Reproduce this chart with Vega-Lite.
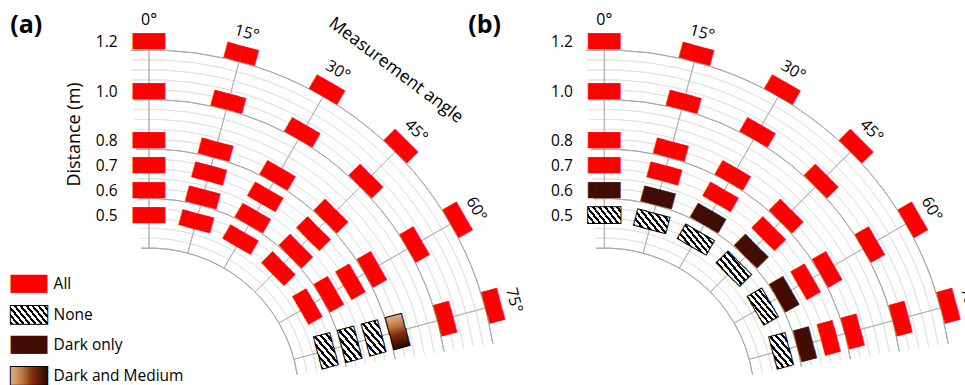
{
"$schema": "https://vega.github.io/schema/vega-lite/v6.json",
"padding": {"left": 10, "top": 12, "right": 0, "bottom": 0},
"bounds": "flush",
"spacing": 108.3,
"config": {"view": {"stroke": null}},
"datasets": {
"rectsA": [
{"angle":0,"distance":0.5,"result":"All"},{"angle":0,"distance":0.6,"result":"All"},{"angle":0,"distance":0.7,"result":"All"},{"angle":0,"distance":0.8,"result":"All"},{"angle":0,"distance":1.0,"result":"All"},{"angle":0,"distance":1.2,"result":"All"},
{"angle":15,"distance":0.5,"result":"All"},{"angle":15,"distance":0.6,"result":"All"},{"angle":15,"distance":0.7,"result":"All"},{"angle":15,"distance":0.8,"result":"All"},{"angle":15,"distance":1.0,"result":"All"},{"angle":15,"distance":1.2,"result":"All"},
{"angle":30,"distance":0.5,"result":"All"},{"angle":30,"distance":0.6,"result":"All"},{"angle":30,"distance":0.7,"result":"All"},{"angle":30,"distance":0.8,"result":"All"},{"angle":30,"distance":1.0,"result":"All"},{"angle":30,"distance":1.2,"result":"All"},
{"angle":45,"distance":0.5,"result":"All"},{"angle":45,"distance":0.6,"result":"All"},{"angle":45,"distance":0.7,"result":"All"},{"angle":45,"distance":0.8,"result":"All"},{"angle":45,"distance":1.0,"result":"All"},{"angle":45,"distance":1.2,"result":"All"},
{"angle":60,"distance":0.5,"result":"All"},{"angle":60,"distance":0.6,"result":"All"},{"angle":60,"distance":0.7,"result":"All"},{"angle":60,"distance":0.8,"result":"All"},{"angle":60,"distance":1.0,"result":"All"},{"angle":60,"distance":1.2,"result":"All"},
{"angle":75,"distance":0.5,"result":"None"},{"angle":75,"distance":0.6,"result":"None"},{"angle":75,"distance":0.7,"result":"None"},{"angle":75,"distance":0.8,"result":"Dark and Medium"},{"angle":75,"distance":1.0,"result":"All"},{"angle":75,"distance":1.2,"result":"All"}
],
"rectsB": [
{"angle":0,"distance":0.5,"result":"None"},{"angle":0,"distance":0.6,"result":"Dark only"},{"angle":0,"distance":0.7,"result":"All"},{"angle":0,"distance":0.8,"result":"All"},{"angle":0,"distance":1.0,"result":"All"},{"angle":0,"distance":1.2,"result":"All"},
{"angle":15,"distance":0.5,"result":"None"},{"angle":15,"distance":0.6,"result":"Dark only"},{"angle":15,"distance":0.7,"result":"All"},{"angle":15,"distance":0.8,"result":"All"},{"angle":15,"distance":1.0,"result":"All"},{"angle":15,"distance":1.2,"result":"All"},
{"angle":30,"distance":0.5,"result":"None"},{"angle":30,"distance":0.6,"result":"Dark only"},{"angle":30,"distance":0.7,"result":"All"},{"angle":30,"distance":0.8,"result":"All"},{"angle":30,"distance":1.0,"result":"All"},{"angle":30,"distance":1.2,"result":"All"},
{"angle":45,"distance":0.5,"result":"None"},{"angle":45,"distance":0.6,"result":"Dark only"},{"angle":45,"distance":0.7,"result":"All"},{"angle":45,"distance":0.8,"result":"All"},{"angle":45,"distance":1.0,"result":"All"},{"angle":45,"distance":1.2,"result":"All"},
{"angle":60,"distance":0.5,"result":"None"},{"angle":60,"distance":0.6,"result":"Dark only"},{"angle":60,"distance":0.7,"result":"All"},{"angle":60,"distance":0.8,"result":"All"},{"angle":60,"distance":1.0,"result":"All"},{"angle":60,"distance":1.2,"result":"All"},
{"angle":75,"distance":0.5,"result":"None"},{"angle":75,"distance":0.6,"result":"Dark only"},{"angle":75,"distance":0.7,"result":"All"},{"angle":75,"distance":0.8,"result":"All"},{"angle":75,"distance":1.0,"result":"All"},{"angle":75,"distance":1.2,"result":"All"}
],
"gridMajor": [{"distance":0.4},{"distance":0.6},{"distance":0.8},{"distance":1.0},{"distance":1.2}],
"gridMinor": [{"distance":0.44},{"distance":0.48},{"distance":0.52},{"distance":0.56},{"distance":0.64},{"distance":0.68},{"distance":0.72},{"distance":0.76},{"distance":0.84},{"distance":0.88},{"distance":0.92},{"distance":0.96},{"distance":1.04},{"distance":1.08},{"distance":1.12},{"distance":1.16}],
"angles": [{"angle":0,"label":"0°"},{"angle":15,"label":"15°"},{"angle":30,"label":"30°"},{"angle":45,"label":"45°"},{"angle":60,"label":"60°"},{"angle":75,"label":"75°"}],
"legend": [{"category":"All"},{"category":"None"},{"category":"Dark only"},{"category":"Dark and Medium"}]
},
"hconcat": [
{
"width": 347, "height": 359.2,
"resolve": {"scale": {"y": "independent"}},
"layer": [
{
"encoding": {
"x": {"datum": 0, "type": "quantitative", "scale": {"domain": [0, 1.4], "nice": false, "zero": false}, "axis": null},
"y": {"datum": -0.2384, "type": "quantitative", "scale": {"domain": [-0.15, 1.3], "nice": false, "zero": false},
"axis": {"values": [0.5,0.6,0.7,0.8,1.0,1.2], "format": ".1f", "domain": false, "ticks": false, "tickSize": 0, "grid": false, "labelOverlap": false, "labelFlush": false, "labelPadding": 31.9, "labelFont": "Open Sans", "labelFontSize": 15.5, "labelColor": "#000", "title": "Distance (m)", "titleFont": "Open Sans", "titleFontSize": 18, "titleFontWeight": "normal", "titleColor": "#000", "titleX": -66, "titleY": 117}}
},
"layer": [
{"data": {"name": "gridMinor"}, "mark": {"type": "arc", "filled": false, "stroke": "#e3e3e3", "strokeWidth": 1},
"encoding": {"theta": {"datum": -3, "type": "quantitative", "scale": {"domain": [0,360], "range": [0, 6.283185307179586]}}, "theta2": {"datum": 81},
"radius": {"field": "distance", "type": "quantitative", "scale": {"type": "linear", "domain": [0, 1.3], "range": [51, 373.01], "zero": false}}, "radius2": {"field": "distance"}}},
{"data": {"name": "gridMajor"}, "mark": {"type": "arc", "filled": false, "stroke": "#a8a8a8", "strokeWidth": 1},
"encoding": {"theta": {"datum": -3, "type": "quantitative", "scale": {"domain": [0,360], "range": [0, 6.283185307179586]}}, "theta2": {"datum": 81},
"radius": {"field": "distance", "type": "quantitative", "scale": {"type": "linear", "domain": [0, 1.3], "range": [51, 373.01], "zero": false}}, "radius2": {"field": "distance"}}},
{"data": {"name": "angles"}, "mark": {"type": "arc", "filled": false, "stroke": "#b4b4b4", "strokeWidth": 1},
"encoding": {"theta": {"field": "angle", "type": "quantitative", "stack": null, "scale": {"domain": [0,360], "range": [0, 6.283185307179586]}}, "theta2": {"field": "angle"},
"radius": {"datum": 0.4, "type": "quantitative", "scale": {"type": "linear", "domain": [0, 1.3], "range": [51, 373.01], "zero": false}}, "radius2": {"datum": 1.2}}},
{
"data": {"name": "rectsA"},
"encoding": {
"theta": {"field": "angle", "type": "quantitative", "stack": null, "scale": {"domain": [0,360], "range": [0, 6.283185307179586]}},
"radius": {"field": "distance", "type": "quantitative", "scale": {"type": "linear", "domain": [0, 1.3], "range": [51, 373.01], "zero": false}},
"angle": {"field": "angle", "type": "quantitative", "scale": {"domain": [0,360], "range": [0,360]}, "legend": null}
},
"layer": [
{"transform": [{"filter": "datum.result === 'All'"}], "mark": {"type": "text", "text": "████", "font": "DejaVu Sans Mono", "fontSize": 13.3, "align": "center", "baseline": "middle", "dy": -7.6, "fill": "#ff0000", "stroke": "#ff0000", "strokeWidth": 0.5}},
{"transform": [{"filter": "datum.result === 'None' || datum.result === 'Dark and Medium'"}], "mark": {"type": "text", "text": "████", "font": "DejaVu Sans Mono", "fontSize": 13.3, "align": "center", "baseline": "middle", "dy": -7.6, "fill": "#000", "stroke": "#000", "strokeWidth": 2}},
{"transform": [{"filter": "datum.result === 'None' && datum.angle === 75"}], "mark": {"type": "text", "text": "████", "font": "DejaVu Sans Mono", "fontSize": 13.3, "align": "center", "baseline": "middle", "dy": -7.6,
"fill": {"gradient": "linear", "x1": 1, "y1": 1, "x2": 0.0194, "y2": -0.0186, "stops": [{"offset":0,"color":"#000"},{"offset":0.075,"color":"#000"},{"offset":0.075,"color":"#fff"},{"offset":0.167,"color":"#fff"},{"offset":0.167,"color":"#000"},{"offset":0.242,"color":"#000"},{"offset":0.242,"color":"#fff"},{"offset":0.333,"color":"#fff"},{"offset":0.333,"color":"#000"},{"offset":0.408,"color":"#000"},{"offset":0.408,"color":"#fff"},{"offset":0.5,"color":"#fff"},{"offset":0.5,"color":"#000"},{"offset":0.575,"color":"#000"},{"offset":0.575,"color":"#fff"},{"offset":0.667,"color":"#fff"},{"offset":0.667,"color":"#000"},{"offset":0.742,"color":"#000"},{"offset":0.742,"color":"#fff"},{"offset":0.833,"color":"#fff"},{"offset":0.833,"color":"#000"},{"offset":0.908,"color":"#000"},{"offset":0.908,"color":"#fff"},{"offset":1,"color":"#fff"}]}}},
{"transform": [{"filter": "datum.result === 'Dark and Medium'"}], "mark": {"type": "text", "text": "████", "font": "DejaVu Sans Mono", "fontSize": 13.3, "align": "center", "baseline": "middle", "dy": -7.6,
"fill": {"gradient": "linear", "x1": 0, "y1": 0, "x2": 1, "y2": 0, "stops": [{"offset":0,"color":"#e2b58c"},{"offset":0.3,"color":"#c47d46"},{"offset":0.6,"color":"#7d2c0a"},{"offset":1,"color":"#2a0400"}]}}}
]
},
{"data": {"name": "angles"}, "mark": {"type": "text", "font": "Open Sans", "fontSize": 16, "align": "center", "baseline": "middle", "fill": "#000"},
"encoding": {"theta": {"field": "angle", "type": "quantitative", "stack": null, "scale": {"domain": [0,360], "range": [0, 6.283185307179586]}},
"radius": {"datum": 1.32, "type": "quantitative", "scale": {"type": "linear", "domain": [0, 1.3], "range": [51, 373.01], "zero": false}},
"angle": {"field": "angle", "type": "quantitative", "scale": {"domain": [0,360], "range": [0,360]}, "legend": null},
"text": {"field": "label", "type": "nominal"}}},
{"data": {"values": [{}]}, "mark": {"type": "text", "text": "Measurement angle", "font": "Open Sans", "fontSize": 17.5, "align": "center", "baseline": "middle", "angle": 37, "fill": "#000"},
"encoding": {"theta": {"datum": 37, "type": "quantitative", "scale": {"domain": [0,360], "range": [0, 6.283185307179586]}},
"radius": {"datum": 1.45, "type": "quantitative", "scale": {"type": "linear", "domain": [0, 1.3], "range": [51, 373.01], "zero": false}}}},
{"data": {"values": [{}]}, "mark": {"type": "text", "text": "(a)", "font": "Open Sans", "fontSize": 25, "fontWeight": "bold", "align": "left", "baseline": "alphabetic", "fill": "#000"},
"encoding": {"x": {"datum": -0.5596, "type": "quantitative", "scale": {"domain": [0, 1.4], "nice": false, "zero": false}, "axis": null},
"y": {"datum": 1.2364, "type": "quantitative", "scale": {"domain": [-0.15, 1.3], "nice": false, "zero": false},
"axis": {"values": [0.5,0.6,0.7,0.8,1.0,1.2], "format": ".1f", "domain": false, "ticks": false, "tickSize": 0, "grid": false, "labelOverlap": false, "labelFlush": false, "labelPadding": 31.9, "labelFont": "Open Sans", "labelFontSize": 15.5, "labelColor": "#000", "title": "Distance (m)", "titleFont": "Open Sans", "titleFontSize": 18, "titleFontWeight": "normal", "titleColor": "#000", "titleX": -66, "titleY": 117}}}}
]
},
{
"data": {"name": "legend"},
"encoding": {
"y": {"field": "category", "type": "nominal", "scale": {"type": "point", "domain": ["All","None","Dark only","Dark and Medium"], "range": [266.75, 359.2], "padding": 0, "round": false}, "axis": null},
"x": {"datum": -0.4841, "type": "quantitative", "scale": {"domain": [0, 1.4], "nice": false, "zero": false}, "axis": null}
},
"layer": [
{"transform": [{"filter": "datum.category === 'None' || datum.category === 'Dark and Medium'"}], "mark": {"type": "text", "text": "████", "font": "DejaVu Sans Mono", "fontSize": 15, "align": "center", "baseline": "middle", "fill": "#000", "stroke": "#000", "strokeWidth": 2}},
{"transform": [{"filter": "datum.category === 'All'"}], "mark": {"type": "text", "text": "████", "font": "DejaVu Sans Mono", "fontSize": 15, "align": "center", "baseline": "middle", "fill": "#ff0000", "stroke": "#ff0000", "strokeWidth": 0.5}},
{"transform": [{"filter": "datum.category === 'Dark only'"}], "mark": {"type": "text", "text": "████", "font": "DejaVu Sans Mono", "fontSize": 15, "align": "center", "baseline": "middle", "fill": "#420c02", "stroke": "#420c02", "strokeWidth": 0.5}},
{"transform": [{"filter": "datum.category === 'None'"}], "mark": {"type": "text", "text": "████", "font": "DejaVu Sans Mono", "fontSize": 15, "align": "center", "baseline": "middle",
"fill": {"gradient": "linear", "x1": 0, "y1": 1, "x2": 1.2071, "y2": 0.5092, "stops": [{"offset":0,"color":"#000"},{"offset":0.05,"color":"#000"},{"offset":0.05,"color":"#fff"},{"offset":0.111,"color":"#fff"},{"offset":0.111,"color":"#000"},{"offset":0.161,"color":"#000"},{"offset":0.161,"color":"#fff"},{"offset":0.222,"color":"#fff"},{"offset":0.222,"color":"#000"},{"offset":0.272,"color":"#000"},{"offset":0.272,"color":"#fff"},{"offset":0.333,"color":"#fff"},{"offset":0.333,"color":"#000"},{"offset":0.383,"color":"#000"},{"offset":0.383,"color":"#fff"},{"offset":0.444,"color":"#fff"},{"offset":0.444,"color":"#000"},{"offset":0.494,"color":"#000"},{"offset":0.494,"color":"#fff"},{"offset":0.556,"color":"#fff"},{"offset":0.556,"color":"#000"},{"offset":0.606,"color":"#000"},{"offset":0.606,"color":"#fff"},{"offset":0.667,"color":"#fff"},{"offset":0.667,"color":"#000"},{"offset":0.717,"color":"#000"},{"offset":0.717,"color":"#fff"},{"offset":0.778,"color":"#fff"},{"offset":0.778,"color":"#000"},{"offset":0.828,"color":"#000"},{"offset":0.828,"color":"#fff"},{"offset":0.889,"color":"#fff"},{"offset":0.889,"color":"#000"},{"offset":0.939,"color":"#000"},{"offset":0.939,"color":"#fff"},{"offset":1,"color":"#fff"}]}}},
{"transform": [{"filter": "datum.category === 'Dark and Medium'"}], "mark": {"type": "text", "text": "████", "font": "DejaVu Sans Mono", "fontSize": 15, "align": "center", "baseline": "middle",
"fill": {"gradient": "linear", "x1": 0, "y1": 0, "x2": 1, "y2": 0, "stops": [{"offset":0,"color":"#e2b58c"},{"offset":0.3,"color":"#c47d46"},{"offset":0.6,"color":"#7d2c0a"},{"offset":1,"color":"#2a0400"}]}}},
{"mark": {"type": "text", "font": "Open Sans", "fontSize": 15.5, "align": "left", "baseline": "middle", "fill": "#000"},
"encoding": {"x": {"datum": -0.3849, "type": "quantitative", "scale": {"domain": [0, 1.4], "nice": false, "zero": false}, "axis": null}, "text": {"field": "category", "type": "nominal"}}}
]
}
]
},
{
"width": 347, "height": 359.2,
"encoding": {
"x": {"datum": 0, "type": "quantitative", "scale": {"domain": [0, 1.4], "nice": false, "zero": false}, "axis": null},
"y": {"datum": -0.2384, "type": "quantitative", "scale": {"domain": [-0.15, 1.3], "nice": false, "zero": false},
"axis": {"values": [0.5,0.6,0.7,0.8,1.0,1.2], "format": ".1f", "domain": false, "ticks": false, "tickSize": 0, "grid": false, "labelOverlap": false, "labelFlush": false, "labelPadding": 31.9, "labelFont": "Open Sans", "labelFontSize": 15.5, "labelColor": "#000", "title": null}}
},
"layer": [
{"data": {"name": "gridMinor"}, "mark": {"type": "arc", "filled": false, "stroke": "#e3e3e3", "strokeWidth": 1},
"encoding": {"theta": {"datum": -3, "type": "quantitative", "scale": {"domain": [0,360], "range": [0, 6.283185307179586]}}, "theta2": {"datum": 81},
"radius": {"field": "distance", "type": "quantitative", "scale": {"type": "linear", "domain": [0, 1.3], "range": [51, 373.01], "zero": false}}, "radius2": {"field": "distance"}}},
{"data": {"name": "gridMajor"}, "mark": {"type": "arc", "filled": false, "stroke": "#a8a8a8", "strokeWidth": 1},
"encoding": {"theta": {"datum": -3, "type": "quantitative", "scale": {"domain": [0,360], "range": [0, 6.283185307179586]}}, "theta2": {"datum": 81},
"radius": {"field": "distance", "type": "quantitative", "scale": {"type": "linear", "domain": [0, 1.3], "range": [51, 373.01], "zero": false}}, "radius2": {"field": "distance"}}},
{"data": {"name": "angles"}, "mark": {"type": "arc", "filled": false, "stroke": "#b4b4b4", "strokeWidth": 1},
"encoding": {"theta": {"field": "angle", "type": "quantitative", "stack": null, "scale": {"domain": [0,360], "range": [0, 6.283185307179586]}}, "theta2": {"field": "angle"},
"radius": {"datum": 0.4, "type": "quantitative", "scale": {"type": "linear", "domain": [0, 1.3], "range": [51, 373.01], "zero": false}}, "radius2": {"datum": 1.2}}},
{
"data": {"name": "rectsB"},
"encoding": {
"theta": {"field": "angle", "type": "quantitative", "stack": null, "scale": {"domain": [0,360], "range": [0, 6.283185307179586]}},
"radius": {"field": "distance", "type": "quantitative", "scale": {"type": "linear", "domain": [0, 1.3], "range": [51, 373.01], "zero": false}},
"angle": {"field": "angle", "type": "quantitative", "scale": {"domain": [0,360], "range": [0,360]}, "legend": null}
},
"layer": [
{"transform": [{"filter": "datum.result === 'All'"}], "mark": {"type": "text", "text": "████", "font": "DejaVu Sans Mono", "fontSize": 13.3, "align": "center", "baseline": "middle", "dy": -7.6, "fill": "#ff0000", "stroke": "#ff0000", "strokeWidth": 0.5}},
{"transform": [{"filter": "datum.result === 'Dark only'"}], "mark": {"type": "text", "text": "████", "font": "DejaVu Sans Mono", "fontSize": 13.3, "align": "center", "baseline": "middle", "dy": -7.6, "fill": "#420c02", "stroke": "#420c02", "strokeWidth": 0.5}},
{"transform": [{"filter": "datum.result === 'None'"}], "mark": {"type": "text", "text": "████", "font": "DejaVu Sans Mono", "fontSize": 13.3, "align": "center", "baseline": "middle", "dy": -7.6, "fill": "#000", "stroke": "#000", "strokeWidth": 2}},
{"transform": [{"filter": "datum.result === 'None' && datum.angle === 0"}], "mark": {"type": "text", "text": "████", "font": "DejaVu Sans Mono", "fontSize": 13.3, "align": "center", "baseline": "middle", "dy": -7.6,
"fill": {"gradient": "linear", "x1": 0, "y1": 1, "x2": 1.2071, "y2": 0.5092, "stops": [{"offset":0,"color":"#000"},{"offset":0.056,"color":"#000"},{"offset":0.056,"color":"#fff"},{"offset":0.125,"color":"#fff"},{"offset":0.125,"color":"#000"},{"offset":0.181,"color":"#000"},{"offset":0.181,"color":"#fff"},{"offset":0.25,"color":"#fff"},{"offset":0.25,"color":"#000"},{"offset":0.306,"color":"#000"},{"offset":0.306,"color":"#fff"},{"offset":0.375,"color":"#fff"},{"offset":0.375,"color":"#000"},{"offset":0.431,"color":"#000"},{"offset":0.431,"color":"#fff"},{"offset":0.5,"color":"#fff"},{"offset":0.5,"color":"#000"},{"offset":0.556,"color":"#000"},{"offset":0.556,"color":"#fff"},{"offset":0.625,"color":"#fff"},{"offset":0.625,"color":"#000"},{"offset":0.681,"color":"#000"},{"offset":0.681,"color":"#fff"},{"offset":0.75,"color":"#fff"},{"offset":0.75,"color":"#000"},{"offset":0.806,"color":"#000"},{"offset":0.806,"color":"#fff"},{"offset":0.875,"color":"#fff"},{"offset":0.875,"color":"#000"},{"offset":0.931,"color":"#000"},{"offset":0.931,"color":"#fff"},{"offset":1,"color":"#fff"}]}}},
{"transform": [{"filter": "datum.result === 'None' && datum.angle === 15"}], "mark": {"type": "text", "text": "████", "font": "DejaVu Sans Mono", "fontSize": 13.3, "align": "center", "baseline": "middle", "dy": -7.6,
"fill": {"gradient": "linear", "x1": 0, "y1": 1, "x2": 1.1442, "y2": 0.2085, "stops": [{"offset":0,"color":"#000"},{"offset":0.064,"color":"#000"},{"offset":0.064,"color":"#fff"},{"offset":0.143,"color":"#fff"},{"offset":0.143,"color":"#000"},{"offset":0.207,"color":"#000"},{"offset":0.207,"color":"#fff"},{"offset":0.286,"color":"#fff"},{"offset":0.286,"color":"#000"},{"offset":0.35,"color":"#000"},{"offset":0.35,"color":"#fff"},{"offset":0.429,"color":"#fff"},{"offset":0.429,"color":"#000"},{"offset":0.493,"color":"#000"},{"offset":0.493,"color":"#fff"},{"offset":0.571,"color":"#fff"},{"offset":0.571,"color":"#000"},{"offset":0.636,"color":"#000"},{"offset":0.636,"color":"#fff"},{"offset":0.714,"color":"#fff"},{"offset":0.714,"color":"#000"},{"offset":0.779,"color":"#000"},{"offset":0.779,"color":"#fff"},{"offset":0.857,"color":"#fff"},{"offset":0.857,"color":"#000"},{"offset":0.921,"color":"#000"},{"offset":0.921,"color":"#fff"},{"offset":1,"color":"#fff"}]}}},
{"transform": [{"filter": "datum.result === 'None' && datum.angle === 30"}], "mark": {"type": "text", "text": "████", "font": "DejaVu Sans Mono", "fontSize": 13.3, "align": "center", "baseline": "middle", "dy": -7.6,
"fill": {"gradient": "linear", "x1": 0, "y1": 1, "x2": 0.8411, "y2": -0.1194, "stops": [{"offset":0,"color":"#000"},{"offset":0.075,"color":"#000"},{"offset":0.075,"color":"#fff"},{"offset":0.167,"color":"#fff"},{"offset":0.167,"color":"#000"},{"offset":0.242,"color":"#000"},{"offset":0.242,"color":"#fff"},{"offset":0.333,"color":"#fff"},{"offset":0.333,"color":"#000"},{"offset":0.408,"color":"#000"},{"offset":0.408,"color":"#fff"},{"offset":0.5,"color":"#fff"},{"offset":0.5,"color":"#000"},{"offset":0.575,"color":"#000"},{"offset":0.575,"color":"#fff"},{"offset":0.667,"color":"#fff"},{"offset":0.667,"color":"#000"},{"offset":0.742,"color":"#000"},{"offset":0.742,"color":"#fff"},{"offset":0.833,"color":"#fff"},{"offset":0.833,"color":"#000"},{"offset":0.908,"color":"#000"},{"offset":0.908,"color":"#fff"},{"offset":1,"color":"#fff"}]}}},
{"transform": [{"filter": "datum.result === 'None' && datum.angle === 45"}], "mark": {"type": "text", "text": "████", "font": "DejaVu Sans Mono", "fontSize": 13.3, "align": "center", "baseline": "middle", "dy": -7.6,
"fill": {"gradient": "linear", "x1": 0, "y1": 1, "x2": 0.2065, "y2": -0.1433, "stops": [{"offset":0,"color":"#000"},{"offset":0.113,"color":"#000"},{"offset":0.113,"color":"#fff"},{"offset":0.25,"color":"#fff"},{"offset":0.25,"color":"#000"},{"offset":0.363,"color":"#000"},{"offset":0.363,"color":"#fff"},{"offset":0.5,"color":"#fff"},{"offset":0.5,"color":"#000"},{"offset":0.613,"color":"#000"},{"offset":0.613,"color":"#fff"},{"offset":0.75,"color":"#fff"},{"offset":0.75,"color":"#000"},{"offset":0.863,"color":"#000"},{"offset":0.863,"color":"#fff"},{"offset":1,"color":"#fff"}]}}},
{"transform": [{"filter": "datum.result === 'None' && datum.angle === 60"}], "mark": {"type": "text", "text": "████", "font": "DejaVu Sans Mono", "fontSize": 13.3, "align": "center", "baseline": "middle", "dy": -7.6,
"fill": {"gradient": "linear", "x1": 1, "y1": 1, "x2": 0.5617, "y2": -0.2044, "stops": [{"offset":0,"color":"#000"},{"offset":0.09,"color":"#000"},{"offset":0.09,"color":"#fff"},{"offset":0.2,"color":"#fff"},{"offset":0.2,"color":"#000"},{"offset":0.29,"color":"#000"},{"offset":0.29,"color":"#fff"},{"offset":0.4,"color":"#fff"},{"offset":0.4,"color":"#000"},{"offset":0.49,"color":"#000"},{"offset":0.49,"color":"#fff"},{"offset":0.6,"color":"#fff"},{"offset":0.6,"color":"#000"},{"offset":0.69,"color":"#000"},{"offset":0.69,"color":"#fff"},{"offset":0.8,"color":"#fff"},{"offset":0.8,"color":"#000"},{"offset":0.89,"color":"#000"},{"offset":0.89,"color":"#fff"},{"offset":1,"color":"#fff"}]}}},
{"transform": [{"filter": "datum.result === 'None' && datum.angle === 75"}], "mark": {"type": "text", "text": "████", "font": "DejaVu Sans Mono", "fontSize": 13.3, "align": "center", "baseline": "middle", "dy": -7.6,
"fill": {"gradient": "linear", "x1": 1, "y1": 1, "x2": 0.0194, "y2": -0.0186, "stops": [{"offset":0,"color":"#000"},{"offset":0.075,"color":"#000"},{"offset":0.075,"color":"#fff"},{"offset":0.167,"color":"#fff"},{"offset":0.167,"color":"#000"},{"offset":0.242,"color":"#000"},{"offset":0.242,"color":"#fff"},{"offset":0.333,"color":"#fff"},{"offset":0.333,"color":"#000"},{"offset":0.408,"color":"#000"},{"offset":0.408,"color":"#fff"},{"offset":0.5,"color":"#fff"},{"offset":0.5,"color":"#000"},{"offset":0.575,"color":"#000"},{"offset":0.575,"color":"#fff"},{"offset":0.667,"color":"#fff"},{"offset":0.667,"color":"#000"},{"offset":0.742,"color":"#000"},{"offset":0.742,"color":"#fff"},{"offset":0.833,"color":"#fff"},{"offset":0.833,"color":"#000"},{"offset":0.908,"color":"#000"},{"offset":0.908,"color":"#fff"},{"offset":1,"color":"#fff"}]}}}
]
},
{"data": {"name": "angles"}, "mark": {"type": "text", "font": "Open Sans", "fontSize": 16, "align": "center", "baseline": "middle", "fill": "#000"},
"encoding": {"theta": {"field": "angle", "type": "quantitative", "stack": null, "scale": {"domain": [0,360], "range": [0, 6.283185307179586]}},
"radius": {"datum": 1.32, "type": "quantitative", "scale": {"type": "linear", "domain": [0, 1.3], "range": [51, 373.01], "zero": false}},
"angle": {"field": "angle", "type": "quantitative", "scale": {"domain": [0,360], "range": [0,360]}, "legend": null},
"text": {"field": "label", "type": "nominal"}}},
{"data": {"values": [{}]}, "mark": {"type": "text", "text": "(b)", "font": "Open Sans", "fontSize": 25, "fontWeight": "bold", "align": "left", "baseline": "alphabetic", "fill": "#000"},
"encoding": {"x": {"datum": -0.5487, "type": "quantitative", "scale": {"domain": [0, 1.4], "nice": false, "zero": false}, "axis": null},
"y": {"datum": 1.2364, "type": "quantitative", "scale": {"domain": [-0.15, 1.3], "nice": false, "zero": false},
"axis": {"values": [0.5,0.6,0.7,0.8,1.0,1.2], "format": ".1f", "domain": false, "ticks": false, "tickSize": 0, "grid": false, "labelOverlap": false, "labelFlush": false, "labelPadding": 31.9, "labelFont": "Open Sans", "labelFontSize": 15.5, "labelColor": "#000", "title": null}}}}
]
}
]
}
